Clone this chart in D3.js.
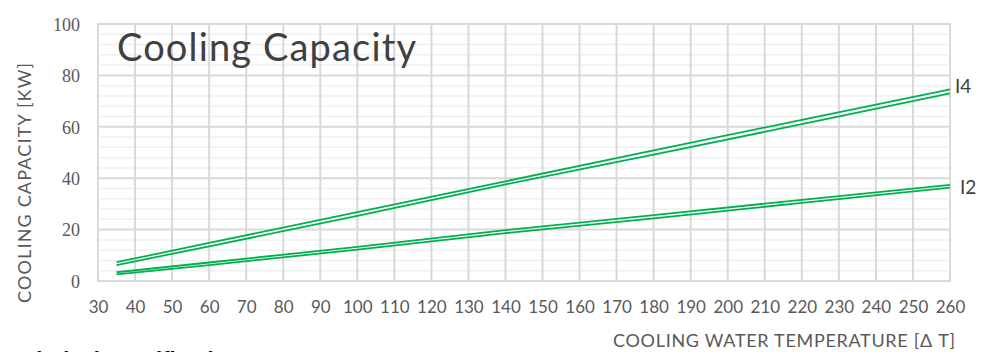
<!DOCTYPE html>
<html>
<head>
<meta charset="utf-8">
<script src="https://cdn.jsdelivr.net/npm/d3@7"></script>
<style>
  body { margin: 0; background: #fff; }
  svg { display: block; }
</style>
</head>
<body>
<div id="chart"></div>
<script>
// temperatures (delta T) where the curves were read
var temps = [35, 60, 100, 140, 180, 220, 260];

var i4Upper = [7.3, 14.8, 26.8, 38.8, 50.8, 62.7, 74.6];
var i4Lower = [6.2, 13.5, 25.3, 37.6, 49.2, 61.0, 73.0];
var i2Upper = [3.4, 7.2, 13.3, 19.8, 25.6, 31.6, 37.4];
var i2Lower = [2.6, 6.2, 12.2, 18.6, 24.4, 30.4, 36.3];

var xTicks = [30, 40, 50, 60, 70, 80, 90, 100, 110, 120, 130, 140, 150, 160, 170, 180, 190, 200, 210, 220, 230, 240, 250, 260];
var yTicks = [0, 20, 40, 60, 80, 100];
var yMinor = [4, 8, 12, 16, 24, 28, 32, 36, 44, 48, 52, 56, 64, 68, 72, 76, 84, 88, 92, 96];

var size = {
  width: 994,
  height: 352,
  left: 98,
  right: 950,
  top: 24,
  bottom: 281
};

var green = "#00b050";
var textColor = "#595959";

var svg = d3.select("#chart")
  .append("svg")
  .attr("width", size.width)
  .attr("height", size.height);

var xScale = d3.scaleLinear().domain([30, 260]).range([size.left, size.right]);
var yScale = d3.scaleLinear().domain([0, 100]).range([size.bottom, size.top]);

// minor horizontal grid
svg.append("g")
  .selectAll("line")
  .data(yMinor)
  .enter()
  .append("line")
  .attr("x1", size.left)
  .attr("x2", size.right)
  .attr("y1", function(d){ return yScale(d); })
  .attr("y2", function(d){ return yScale(d); })
  .attr("stroke", "#f0f0f0")
  .attr("stroke-width", 1.5);

// major grid
svg.append("g")
  .selectAll("line")
  .data(xTicks)
  .enter()
  .append("line")
  .attr("x1", function(d){ return xScale(d); })
  .attr("x2", function(d){ return xScale(d); })
  .attr("y1", size.top)
  .attr("y2", size.bottom)
  .attr("stroke", "#d9d9d9")
  .attr("stroke-width", 2);

svg.append("g")
  .selectAll("line")
  .data(yTicks)
  .enter()
  .append("line")
  .attr("x1", size.left - 1)
  .attr("x2", size.right + 1)
  .attr("y1", function(d){ return yScale(d); })
  .attr("y2", function(d){ return yScale(d); })
  .attr("stroke", "#d9d9d9")
  .attr("stroke-width", 2);

// axes (labels only)
var xAxis = d3.axisBottom(xScale).tickValues(xTicks).tickSize(0).tickPadding(0);
var gx = svg.append("g")
  .attr("transform", "translate(0," + (size.bottom + 32) + ")")
  .call(xAxis);
gx.select(".domain").remove();
gx.selectAll("text")
  .attr("dy", 0)
  .attr("fill", textColor)
  .style("font-family", "Lato")
  .style("font-size", "17px");

var yAxis = d3.axisLeft(yScale).tickValues(yTicks).tickSize(0).tickPadding(0);
var gy = svg.append("g")
  .attr("transform", "translate(80,0)")
  .call(yAxis);
gy.select(".domain").remove();
gy.selectAll("text")
  .attr("dy", "0.35em")
  .attr("fill", textColor)
  .style("font-family", "Liberation Serif")
  .style("font-size", "18px");

// curves
var line = d3.line()
  .x(function(d){ return xScale(d.t); })
  .y(function(d){ return yScale(d.v); });

var series = [i4Upper, i4Lower, i2Upper, i2Lower];
series.forEach(function(values){
  var pts = temps.map(function(t, i){ return {t: t, v: values[i]}; });
  svg.append("path")
    .datum(pts)
    .attr("d", line)
    .attr("fill", "none")
    .attr("stroke", green)
    .attr("stroke-width", 1.8);
});

// series labels
svg.append("text")
  .attr("x", xScale(260) + 5)
  .attr("y", yScale(i4Upper[i4Upper.length - 1]) + 4)
  .attr("fill", "#404040")
  .style("font-family", "Lato")
  .style("font-size", "19px")
  .text("I4");

svg.append("text")
  .attr("x", xScale(260) + 10)
  .attr("y", yScale(i2Upper[i2Upper.length - 1]) + 9)
  .attr("fill", "#404040")
  .style("font-family", "Lato")
  .style("font-size", "19px")
  .text("I2");

// title
svg.append("text")
  .attr("x", 117)
  .attr("y", 61)
  .attr("fill", "#404040")
  .style("font-family", "Lato")
  .style("font-size", "38px")
  .attr("textLength", 299)
  .attr("lengthAdjust", "spacing")
  .text("Cooling Capacity");

// axis titles
svg.append("text")
  .attr("x", 955)
  .attr("y", 347)
  .attr("text-anchor", "end")
  .attr("fill", textColor)
  .style("font-family", "Lato")
  .style("font-size", "18px")
  .attr("textLength", 342)
  .attr("lengthAdjust", "spacing")
  .text("COOLING WATER TEMPERATURE [Δ T]");

svg.append("text")
  .attr("transform", "translate(31,183) rotate(-90)")
  .attr("text-anchor", "middle")
  .attr("fill", textColor)
  .style("font-family", "Lato")
  .style("font-size", "18px")
  .attr("textLength", 240)
  .attr("lengthAdjust", "spacing")
  .text("COOLING CAPACITY [KW]");

// heading under the chart, cut off at the bottom edge as in the source
svg.append("text")
  .attr("x", 0)
  .attr("y", 367)
  .attr("fill", "#000")
  .style("font-family", "Liberation Sans")
  .style("font-weight", "bold")
  .style("font-size", "22px")
  .text("Technical specification");
</script>
</body>
</html>
